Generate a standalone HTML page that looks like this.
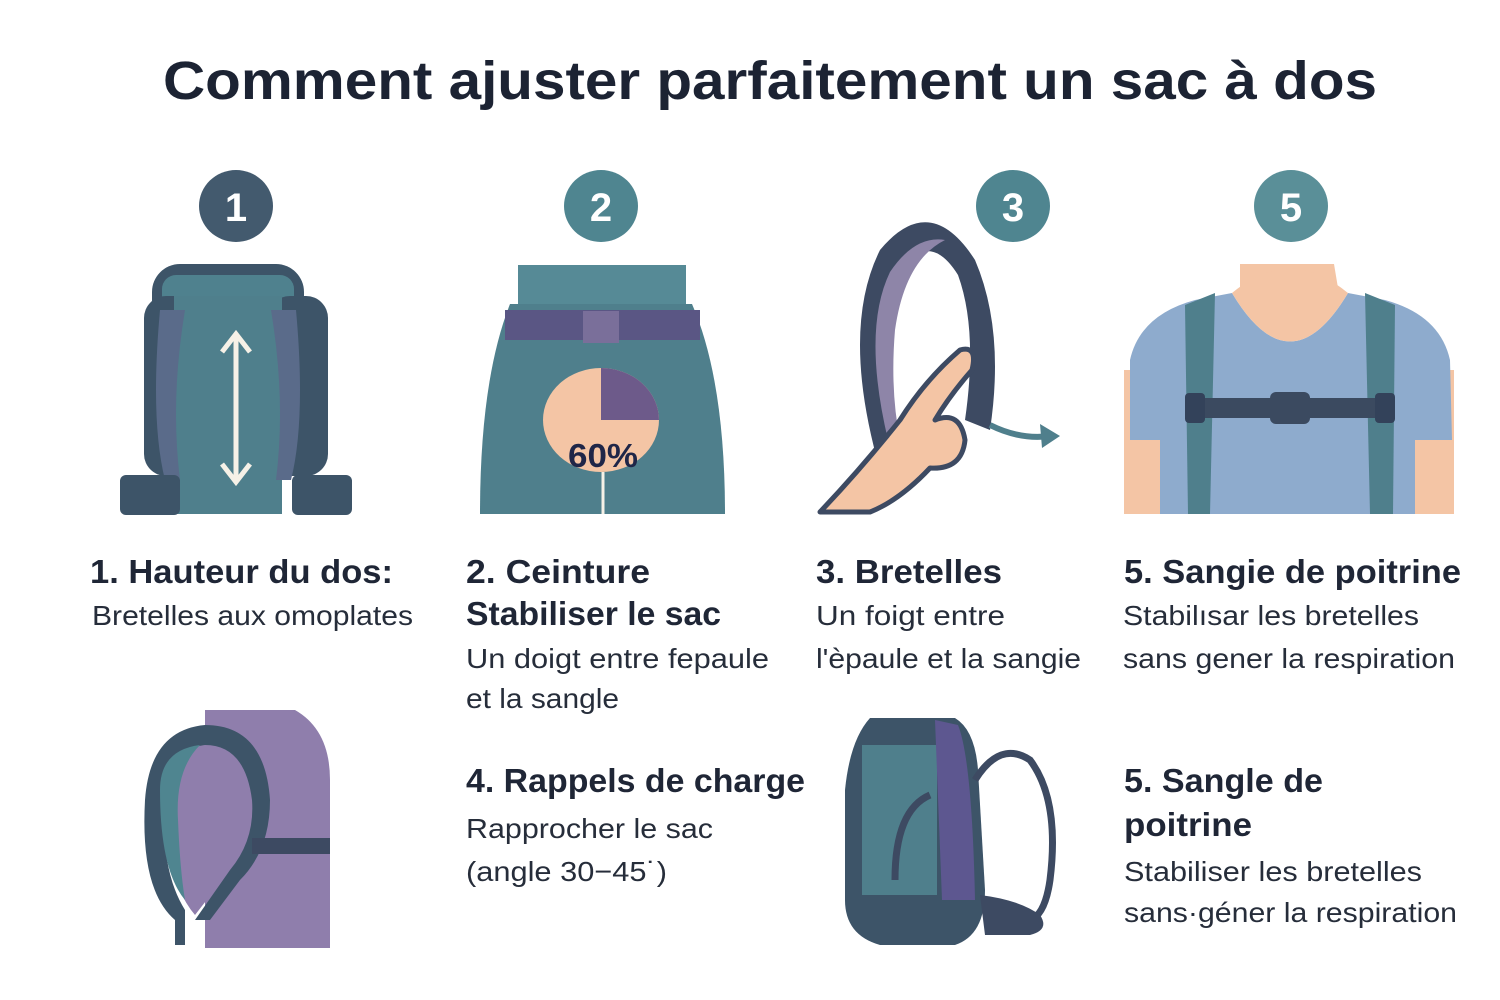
<!DOCTYPE html>
<html><head><meta charset="utf-8"><style>
html,body{margin:0;padding:0;background:#fff;width:1500px;height:1000px;overflow:hidden}
svg{display:block}
text{font-family:"Liberation Sans",sans-serif}
.h{font-weight:bold;font-size:33px;fill:#1f2636}
.b{font-size:28px;fill:#262d3a}
.n{font-weight:bold;font-size:40px;fill:#fff;text-anchor:middle}
</style></head><body>
<svg width="1500" height="1000" viewBox="0 0 1500 1000" xmlns="http://www.w3.org/2000/svg">
<text x="770" y="99" text-anchor="middle" font-weight="bold" font-size="54" fill="#1c2333" textLength="1214" lengthAdjust="spacingAndGlyphs">Comment ajuster parfaitement un sac à dos</text>

<ellipse cx="236" cy="206" rx="37" ry="36" fill="#435a6e"/><text class="n" x="236" y="221">1</text>
<ellipse cx="601" cy="206" rx="37" ry="36" fill="#4f8590"/><text class="n" x="601" y="221">2</text>
<ellipse cx="1013" cy="206" rx="37" ry="36" fill="#4f8590"/><text class="n" x="1013" y="221">3</text>
<ellipse cx="1291" cy="206" rx="37" ry="36" fill="#5a8f98"/><text class="n" x="1291" y="221">5</text>

<!-- 1 backpack -->
<rect x="152" y="264" width="152" height="70" rx="28" fill="#3d5468"/>
<rect x="162" y="275" width="132" height="40" rx="14" fill="#4f818e"/>
<rect x="144" y="296" width="60" height="180" rx="22" fill="#3d5468"/>
<rect x="268" y="296" width="60" height="180" rx="22" fill="#3d5468"/>
<rect x="174" y="296" width="108" height="218" fill="#4f7f8c"/>
<path d="M160 310 Q150 420 165 480 L180 480 Q170 400 185 310Z" fill="#5a6b8a"/>
<path d="M296 310 Q306 420 291 480 L276 480 Q286 400 271 310Z" fill="#5a6b8a"/>
<rect x="120" y="475" width="60" height="40" rx="6" fill="#3d5468"/>
<rect x="292" y="475" width="60" height="40" rx="6" fill="#3d5468"/>
<line x1="236" y1="338" x2="236" y2="478" stroke="#f6f1e7" stroke-width="5"/>
<path d="M222 352 L236 334 L250 352" fill="none" stroke="#f6f1e7" stroke-width="5"/>
<path d="M222 464 L236 482 L250 464" fill="none" stroke="#f6f1e7" stroke-width="5"/>

<!-- 2 hips -->
<rect x="518" y="265" width="168" height="45" fill="#568a96"/>
<path d="M510 304 L692 304 Q725 380 725 514 L480 514 Q480 380 510 304Z" fill="#4f7f8c"/>
<rect x="505" y="310" width="195" height="30" fill="#5a5684"/>
<rect x="583" y="311" width="36" height="32" fill="#7a6f9a"/>
<ellipse cx="601" cy="420" rx="58" ry="52" fill="#f4c5a5"/>
<path d="M601 420 L601 368 A58 52 0 0 1 659 420Z" fill="#6d5a8a"/>
<line x1="603" y1="472" x2="603" y2="514" stroke="#f6f1e7" stroke-width="3"/>
<text x="603" y="467" text-anchor="middle" font-size="33" font-weight="bold" fill="#1f2648" textLength="70" lengthAdjust="spacingAndGlyphs">60%</text>

<!-- 3 strap + hand -->
<path d="M880 470 Q840 330 880 250 Q930 190 975 260 Q1005 330 990 430 L965 420 Q978 330 958 275 Q930 230 900 270 Q870 330 895 460Z" fill="#3d4a62"/>
<path d="M888 440 Q862 330 890 272 Q915 235 945 240 Q905 260 895 330 Q890 390 900 440Z" fill="#8e85a8"/>
<path d="M820 512 Q860 470 900 420 Q925 380 960 350 Q978 345 972 370 Q950 395 935 420 Q960 410 965 440 Q962 470 930 468 Q900 500 870 512Z" fill="#f4c5a5" stroke="#3d4a62" stroke-width="5" stroke-linejoin="round"/>
<path d="M990 425 Q1020 440 1050 436" fill="none" stroke="#4f7f8c" stroke-width="6"/>
<path d="M1040 424 L1060 436 L1042 448Z" fill="#4f7f8c"/>

<!-- 5 chest -->
<rect x="1124" y="370" width="330" height="144" fill="#f4c5a5"/>
<path d="M1240 264 L1334 264 L1340 300 L1240 300Z" fill="#f4c5a5"/>
<path d="M1130 440 L1130 360 Q1140 315 1195 300 L1232 293 Q1290 390 1348 293 L1385 300 Q1440 315 1450 360 L1452 440 L1415 440 L1415 514 L1160 514 L1160 440Z" fill="#8eabcd"/>
<path d="M1232 293 Q1290 390 1348 293 Q1320 270 1290 268 Q1260 270 1232 293Z" fill="#f4c5a5"/>
<path d="M1185 305 L1215 293 L1210 514 L1188 514Z" fill="#4f7f8c"/>
<path d="M1365 293 L1395 305 L1393 514 L1370 514Z" fill="#4f7f8c"/>
<rect x="1185" y="398" width="210" height="20" rx="4" fill="#3b4a60"/>
<rect x="1270" y="392" width="40" height="32" rx="6" fill="#3b4a60"/>
<rect x="1185" y="393" width="20" height="30" rx="4" fill="#33425a"/>
<rect x="1375" y="393" width="20" height="30" rx="4" fill="#33425a"/>

<!-- bottom left side strap -->
<path d="M205 710 L295 710 Q330 730 330 780 L330 948 L205 948Z" fill="#8f7eac"/>
<path d="M165 800 Q165 745 205 745 Q245 745 252 800 Q255 840 230 870 L195 915 Q165 880 165 800Z" fill="#8f7eac"/>
<path d="M175 945 L175 920 Q140 890 145 800 Q150 730 205 725 Q265 725 270 800 Q270 850 240 880 L210 920 L195 920 L230 870 Q255 840 252 800 Q245 745 205 745 Q165 750 165 800 Q160 870 185 910 L185 945Z" fill="#3d5468"/>
<path d="M160 790 Q160 750 200 745 Q175 770 178 820 Q180 870 185 900 Q160 870 160 790Z" fill="#4f8590"/>
<rect x="252" y="838" width="78" height="16" fill="#3d4a62"/>

<!-- bottom right backpack -->
<path d="M870 718 L955 718 Q975 730 978 770 L985 890 Q985 935 955 945 L880 945 Q845 935 845 900 L845 790 Q850 740 870 718Z" fill="#3d5468"/>
<rect x="862" y="745" width="75" height="150" fill="#4f7f8c"/>
<path d="M935 720 L958 725 Q972 760 975 900 L942 900Z" fill="#5d5790"/>
<path d="M975 780 Q1000 740 1030 760 Q1060 800 1050 880 Q1045 915 1030 920" fill="none" stroke="#3d4a62" stroke-width="7"/>
<path d="M895 880 Q895 810 930 795" fill="none" stroke="#3d4a62" stroke-width="7"/>
<path d="M980 895 Q1020 900 1040 915 Q1050 930 1030 935 L985 935Z" fill="#3d4a62"/>

<!-- text -->
<text class="h" x="90" y="583" textLength="303" lengthAdjust="spacingAndGlyphs">1.  Hauteur du dos:</text>
<text class="b" x="92" y="625" textLength="321" lengthAdjust="spacingAndGlyphs">Bretelles aux omoplates</text>

<text class="h" x="466" y="583" textLength="184" lengthAdjust="spacingAndGlyphs">2. Ceinture</text>
<text class="h" x="466" y="625" textLength="255" lengthAdjust="spacingAndGlyphs">Stabiliser le sac</text>
<text class="b" x="466" y="668" textLength="303" lengthAdjust="spacingAndGlyphs">Un doigt entre fepaule</text>
<text class="b" x="466" y="708" textLength="153" lengthAdjust="spacingAndGlyphs">et la sangle</text>

<text class="h" x="816" y="583" textLength="186" lengthAdjust="spacingAndGlyphs">3. Bretelles</text>
<text class="b" x="816" y="625" textLength="189" lengthAdjust="spacingAndGlyphs">Un foigt entre</text>
<text class="b" x="816" y="668" textLength="265" lengthAdjust="spacingAndGlyphs">l'èpaule et la sangie</text>

<text class="h" x="1124" y="583" textLength="337" lengthAdjust="spacingAndGlyphs">5. Sangie de poitrine</text>
<text class="b" x="1123" y="625" textLength="296" lengthAdjust="spacingAndGlyphs">Stabilısar les bretelles</text>
<text class="b" x="1123" y="668" textLength="332" lengthAdjust="spacingAndGlyphs">sans gener la respiration</text>

<text class="h" x="466" y="792" textLength="339" lengthAdjust="spacingAndGlyphs">4. Rappels de charge</text>
<text class="b" x="466" y="838" textLength="247" lengthAdjust="spacingAndGlyphs">Rapprocher le sac</text>
<text class="b" x="466" y="881" textLength="201" lengthAdjust="spacingAndGlyphs">(angle 30−45˙)</text>

<text class="h" x="1124" y="792" textLength="199" lengthAdjust="spacingAndGlyphs">5. Sangle de</text>
<text class="h" x="1124" y="836" textLength="128" lengthAdjust="spacingAndGlyphs">poitrine</text>
<text class="b" x="1124" y="881" textLength="298" lengthAdjust="spacingAndGlyphs">Stabiliser les bretelles</text>
<text class="b" x="1124" y="922" textLength="333" lengthAdjust="spacingAndGlyphs">sans·géner la respiration</text>
</svg>
</body></html>
